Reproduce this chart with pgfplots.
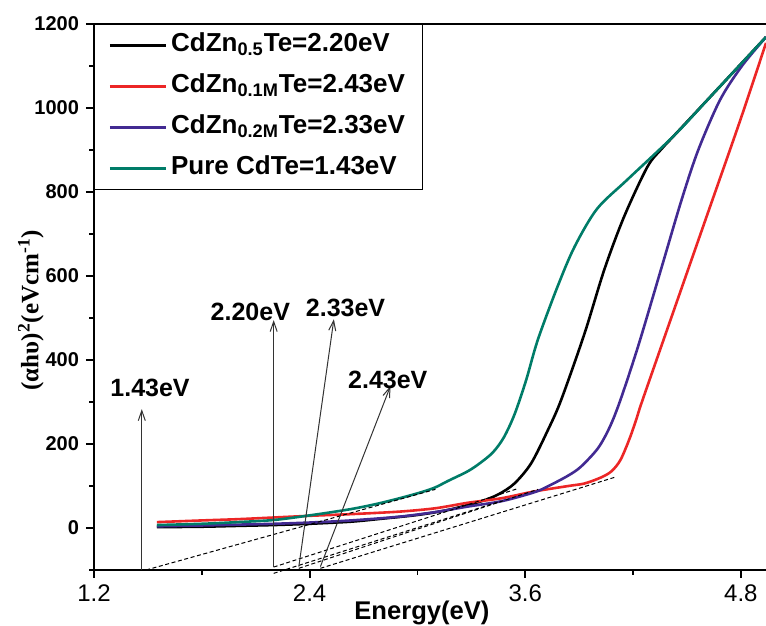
\documentclass[border=0pt]{standalone}
\usepackage{fontspec}
\setmainfont{Liberation Sans}
\newfontfamily\serifb{Liberation Serif}
\usepackage{pgfplots}
\pgfplotsset{compat=1.18}
\usetikzlibrary{arrows.meta}

\definecolor{cred}{RGB}{236,38,38}
\definecolor{cpurple}{RGB}{66,42,146}
\definecolor{cteal}{RGB}{0,124,104}

\begin{document}
\begin{tikzpicture}
\begin{axis}[
  at={(0,0)}, anchor=south west,
  scale only axis, width=336pt, height=273pt,
  xmin=1.2, xmax=4.94, ymin=-100, ymax=1200,
  clip=false,
  axis x line*=box, axis y line*=left,
  xtick={1.2,2.4,3.6,4.8}, minor xtick={1.8,3.0,4.2},
  ytick={0,200,...,1200}, minor ytick={-100,100,...,1100},
  xtick pos=left, ytick pos=left,
  tick align=outside,
  major tick length=4pt, minor tick length=2.3pt,
  axis line style={line width=0.9pt},
  tick style={line width=0.9pt, black},
  /pgf/number format/assume math mode=true,
  /pgf/number format/1000 sep={},
  xticklabel style={font=\fontsize{12}{12}\selectfont, /pgf/number format/fixed, /pgf/number format/precision=1, /pgf/number format/fixed zerofill},
  yticklabel style={font=\fontsize{10}{10}\selectfont\bfseries},
  xlabel={Energy(eV)},
  xlabel style={font=\fontsize{12.8}{13}\selectfont\bfseries, at={(axis description cs:0.488,-0.079)}, anchor=center},
  ylabel={{\serifb(αhυ)\textsuperscript{2}(eVcm\textsuperscript{-1})}},
  ylabel style={font=\fontsize{12.5}{12}\selectfont\bfseries, at={(axis description cs:-0.094,0.476)}, anchor=center},
  legend style={at={(rel axis cs:0,1)}, anchor=north west, draw=black, line width=0.5pt,
    font=\fontsize{13}{14}\selectfont\bfseries, inner xsep=7pt, inner ysep=2pt,
    row sep=3.5pt, cells={anchor=west},
    nodes={inner sep=2pt, text height=9.5pt, text depth=3.5pt}},
  legend image code/.code={\draw[#1, line width=1.3pt] (0pt,0pt) -- (28pt,0pt);},
]
% CdZn0.5
\addplot[black, line width=1.3pt, smooth, tension=0.5] coordinates {
 (1.55,2) (1.8,3) (2.0,5) (2.2,7) (2.4,10) (2.63,15) (2.8,22) (3.0,31) (3.17,43)
 (3.35,63) (3.45,80) (3.54,106) (3.633,154) (3.726,233) (3.80,305) (3.93,463)
 (4.04,615) (4.15,741) (4.28,860) (4.36,903) (4.43,935) (4.62,1022) (4.94,1169) };
\addlegendentry{CdZn\textsubscript{0.5}Te=2.20eV}
% CdZn0.1M
\addplot[cred, line width=1.3pt, smooth, tension=0.5] coordinates {
 (1.55,14) (1.8,18) (2.0,21) (2.2,25) (2.4,29) (2.63,33) (2.9,39) (3.1,47) (3.28,60)
 (3.47,71) (3.65,87) (3.84,100) (3.93,106) (4.02,120) (4.08,135) (4.13,162) (4.18,212)
 (4.22,261) (4.25,301) (4.40,485) (4.60,730) (4.80,975) (4.94,1155) };
\addlegendentry{CdZn\textsubscript{0.1M}Te=2.43eV}
% CdZn0.2M
\addplot[cpurple, line width=1.3pt, smooth, tension=0.5] coordinates {
 (1.55,4) (1.8,6) (2.0,8) (2.2,10) (2.4,13) (2.63,18) (2.9,27) (3.1,38) (3.28,51)
 (3.47,64) (3.65,85) (3.73,100) (3.84,125) (3.91,146) (4.005,190) (4.07,240) (4.13,305)
 (4.23,435) (4.36,622) (4.47,781) (4.563,900) (4.684,1019) (4.806,1100) (4.94,1169) };
\addlegendentry{CdZn\textsubscript{0.2M}Te=2.33eV}
% Pure CdTe
\addplot[cteal, line width=1.3pt, smooth, tension=0.5] coordinates {
 (1.55,7) (1.8,10) (2.0,14) (2.2,19) (2.4,30) (2.63,45) (2.8,60) (2.98,80) (3.09,95)
 (3.17,112) (3.28,135) (3.35,155) (3.42,180) (3.48,215) (3.54,270) (3.605,352)
 (3.67,448) (3.78,575) (3.875,670) (4.0,760) (4.17,830) (4.43,935) (4.62,1022) (4.94,1169) };
\addlegendentry{Pure CdTe=1.43eV}

% tangent lines
\addplot[forget plot, black, line width=0.5pt, dash pattern=on 2pt off 1.3pt] coordinates {(1.49,-100) (3.10,92)};
\addplot[forget plot, black, line width=0.5pt, dash pattern=on 2pt off 1.3pt] coordinates {(2.20,-93) (3.56,94)};
\addplot[forget plot, black, line width=0.5pt, dash pattern=on 2pt off 1.3pt] coordinates {(2.34,-96) (3.67,92)};
\addplot[forget plot, black, line width=0.5pt, dash pattern=on 2pt off 1.3pt] coordinates {(2.46,-96) (4.10,121)};
\addplot[forget plot, black, line width=0.5pt, dash pattern=on 2pt off 1.3pt] coordinates {(2.20,-108) (3.45,62)};

% arrows
\addplot[forget plot, black!80, line width=0.5pt, -{Straight Barb[length=5pt,width=3.5pt]}] coordinates {(1.466,-100) (1.466,283)};
\addplot[forget plot, black!80, line width=0.5pt, -{Straight Barb[length=5pt,width=3.5pt]}] coordinates {(2.20,-93) (2.20,495)};
\addplot[forget plot, black!80, line width=0.5pt, -{Straight Barb[length=5pt,width=3.5pt]}] coordinates {(2.34,-92) (2.535,497)};
\addplot[forget plot, black!80, line width=0.5pt, -{Straight Barb[length=5pt,width=3.5pt]}] coordinates {(2.46,-92) (2.85,338)};

\node[font=\fontsize{12.5}{13}\selectfont\bfseries] at (axis cs:1.512,333) {1.43eV};
\node[font=\fontsize{12.5}{13}\selectfont\bfseries] at (axis cs:2.07,515) {2.20eV};
\node[font=\fontsize{12.5}{13}\selectfont\bfseries] at (axis cs:2.60,523) {2.33eV};
\node[font=\fontsize{12.5}{13}\selectfont\bfseries] at (axis cs:2.835,352) {2.43eV};
\end{axis}
\pgfresetboundingbox
\path[use as bounding box] (-47pt,-28pt) rectangle (336pt,285pt);
\end{tikzpicture}
\end{document}
